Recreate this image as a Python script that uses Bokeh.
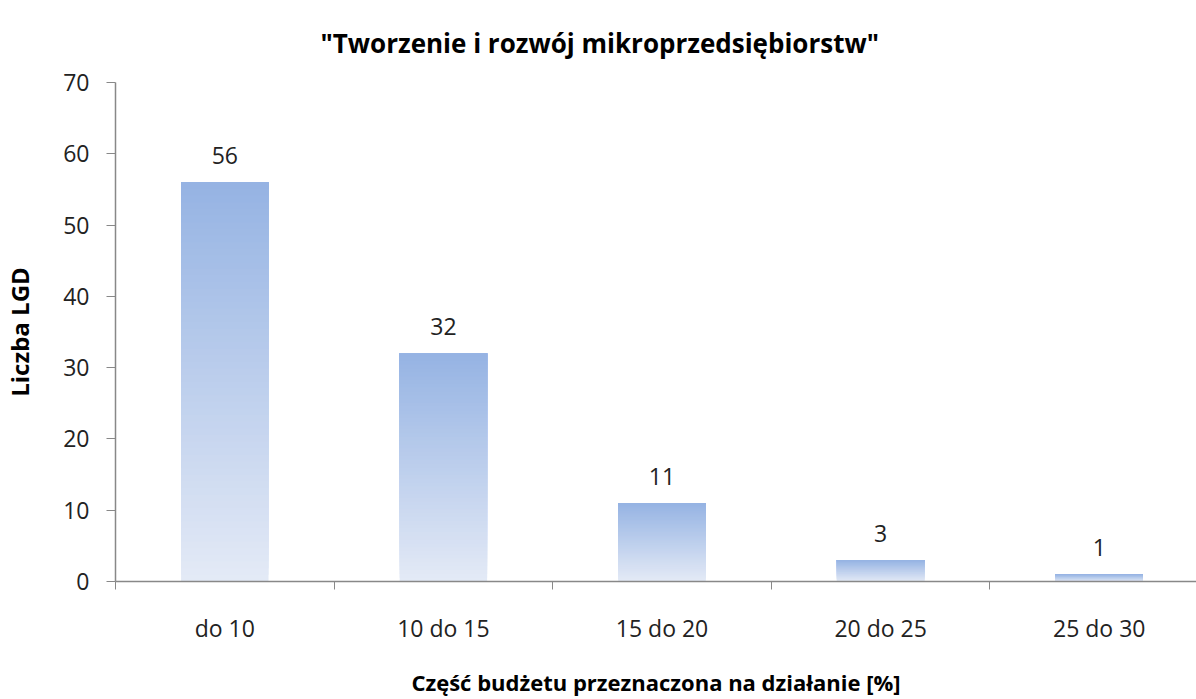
from bokeh.plotting import figure
from bokeh.models import Range1d, FixedTicker, ColumnDataSource, LabelSet
from bokeh.core.properties import value
from bokeh.embed import file_html
from bokeh.resources import INLINE

categories = ["do 10", "10 do 15", "15 do 20", "20 do 25", "25 do 30"]
values = [56, 32, 11, 3, 1]
y_ticks = [0, 10, 20, 30, 40, 50, 60, 70]

title_text = '"Tworzenie i rozwój mikroprzedsiębiorstw"'
x_title = "Część budżetu przeznaczona na działanie [%]"
y_title = "Liczba LGD"

FONT = "Open Sans"
TOP_C = (0x95, 0xB3, 0xE3)
BOT_C = (0xE4, 0xEA, 0xF6)
N = 60

p = figure(width=1196, height=699, output_backend="svg", toolbar_location=None,
           x_range=Range1d(-0.5, 4.445), y_range=Range1d(0, 70),
           min_border_left=115, min_border_right=0, min_border_top=82,
           min_border_bottom=118, tools="")
p.frame_width = 1081
p.frame_height = 499

p.title.text = title_text
p.title.align = "left"
p.title.offset = 205
p.title.text_font = FONT
p.title.text_font_size = "26px"
p.title.text_font_style = "bold"
p.title.text_color = "#000000"
p.title.standoff = 44

p.grid.visible = False
p.outline_line_color = None
p.background_fill_color = "white"
p.border_fill_color = "white"

# gradient bars built from overlapping slices of each value
xs_l, xs_r, bots, tops, cols = [], [], [], [], []
for i, v in enumerate(values):
    for k in range(N):
        b = v * k / N
        f = (k + 0.5) / N
        c = tuple(int(round(BOT_C[j] + (TOP_C[j] - BOT_C[j]) * f)) for j in range(3))
        xs_l.append(i - 0.2)
        xs_r.append(i + 0.2)
        bots.append(b)
        tops.append(v)
        cols.append("#%02x%02x%02x" % c)
p.quad(left=xs_l, right=xs_r, bottom=bots, top=tops, fill_color=cols, line_color=None)

src = ColumnDataSource(dict(x=list(range(len(values))), y=values, t=[str(v) for v in values]))
p.add_layout(LabelSet(x="x", y="y", text="t", source=src, text_align="center",
                      text_baseline="bottom", y_offset=18, text_font=value(FONT),
                      text_font_size="23px", text_color="#222222"))

# axes
xa = p.xaxis[0]
xa.ticker = FixedTicker(ticks=list(range(len(categories))),
                        minor_ticks=[i - 0.5 for i in range(len(categories) + 1)])
xa.major_label_overrides = {i: c for i, c in enumerate(categories)}
xa.major_tick_out = 0
xa.major_tick_in = 0
xa.minor_tick_out = 8
xa.minor_tick_in = 0
xa.minor_tick_line_color = "#888888"
xa.axis_line_color = "#888888"
xa.axis_line_width = 1.5
xa.major_label_text_font = FONT
xa.major_label_text_font_size = "23px"
xa.major_label_text_color = "#222222"
xa.major_label_standoff = 22
xa.axis_label = x_title
xa.axis_label_text_font = FONT
xa.axis_label_text_font_size = "22px"
xa.axis_label_text_font_style = "bold"
xa.axis_label_text_color = "#000000"
xa.axis_label_standoff = 20

ya = p.yaxis[0]
ya.ticker = FixedTicker(ticks=y_ticks)
ya.minor_tick_line_color = None
ya.major_tick_out = 9
ya.major_tick_in = 0
ya.major_tick_line_color = "#888888"
ya.axis_line_color = "#888888"
ya.axis_line_width = 1.5
ya.major_label_text_font = FONT
ya.major_label_text_font_size = "23px"
ya.major_label_text_color = "#222222"
ya.major_label_standoff = 17
ya.axis_label = y_title
ya.axis_label_text_font = FONT
ya.axis_label_text_font_size = "24px"
ya.axis_label_text_font_style = "bold"
ya.axis_label_text_color = "#000000"
ya.axis_label_standoff = 24

open("out.html", "w").write(file_html(p, INLINE))
